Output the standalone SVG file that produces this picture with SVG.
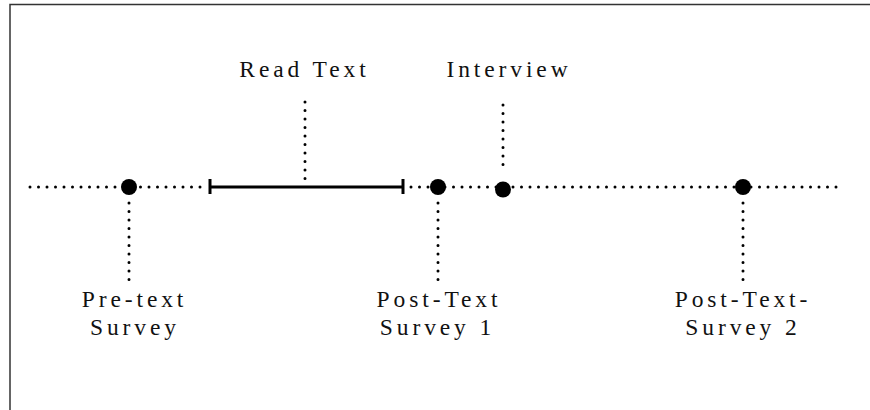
<svg xmlns="http://www.w3.org/2000/svg" width="870" height="410" viewBox="0 0 870 410">
<style>
.lbl{font-family:"Liberation Serif","Times New Roman",serif;font-size:23.5px;letter-spacing:3.9px;fill:#111;text-anchor:middle}
.dot{stroke:#000;stroke-width:3;stroke-linecap:round;stroke-dasharray:0 8.5;fill:none}
.solid{stroke:#000;stroke-width:3;fill:none}
.pt{fill:#000}
</style>
<rect x="0" y="0" width="870" height="410" fill="#fff"/>
<rect x="10" y="4.5" width="900" height="450" fill="none" stroke="#333" stroke-width="1.5"/>
<g id="connectors">
<line class="dot" x1="30" y1="187" x2="206" y2="187"/>
<line class="dot" x1="411" y1="187" x2="843" y2="187"/>
<line class="solid" x1="210" y1="187" x2="403" y2="187"/>
<line class="solid" x1="210" y1="179" x2="210" y2="194"/>
<line class="solid" x1="403" y1="179" x2="403" y2="194"/>
<line class="dot" x1="129" y1="203" x2="129" y2="280"/>
<line class="dot" x1="438" y1="203" x2="438" y2="280"/>
<line class="dot" x1="743" y1="203" x2="743" y2="280"/>
<line class="dot" x1="305" y1="102" x2="305" y2="180"/>
<line class="dot" x1="503" y1="105" x2="503" y2="173"/>
</g>
<g id="pretext">
<circle class="pt" cx="129" cy="187" r="8"/>
<text class="lbl" x="134.5" y="307">Pre-text</text>
<text class="lbl" x="135" y="335">Survey</text>
</g>
<g id="readtext">
<text class="lbl" x="304.5" y="77">Read Text</text>
</g>
<g id="posttext1">
<circle class="pt" cx="438" cy="187" r="8"/>
<text class="lbl" x="439" y="307">Post-Text</text>
<text class="lbl" x="437.5" y="335">Survey 1</text>
</g>
<g id="interview">
<circle class="pt" cx="503" cy="189.5" r="8"/>
<text class="lbl" x="509" y="77">Interview</text>
</g>
<g id="posttext2">
<circle class="pt" cx="743" cy="187" r="8"/>
<text class="lbl" x="743" y="307">Post-Text-</text>
<text class="lbl" x="743" y="335">Survey 2</text>
</g>
</svg>
